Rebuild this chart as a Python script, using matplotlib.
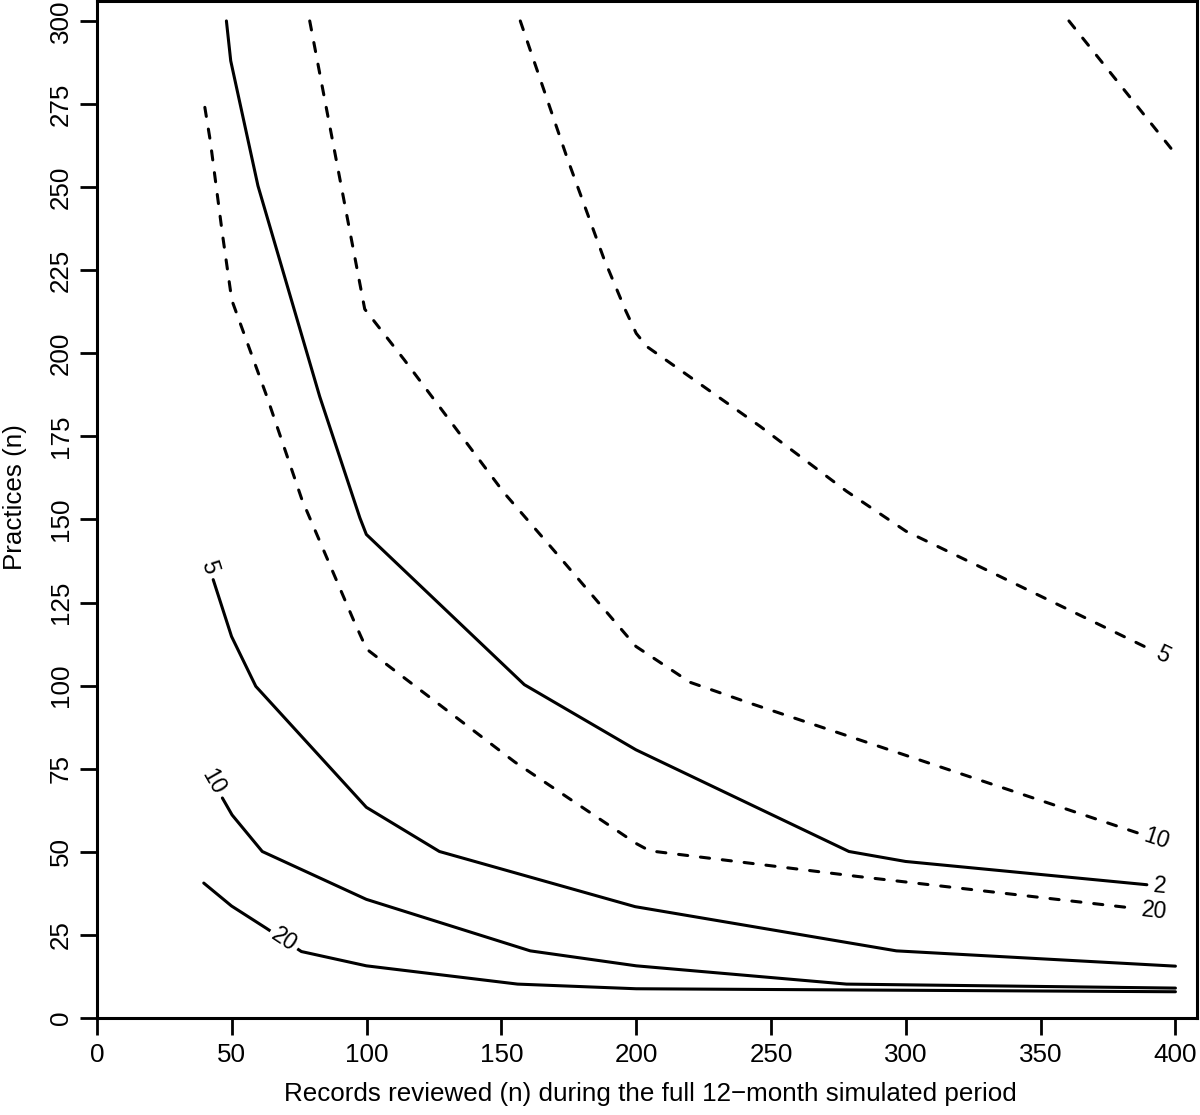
import numpy as np
import matplotlib
matplotlib.use("Agg")
import matplotlib.pyplot as plt

plt.rcParams['font.family'] = ['Liberation Sans', 'DejaVu Sans']

# ---- traced contour lines (x = records reviewed, y = practices) ----
# solid contours
solid2_x = [48.0, 49.6, 59.7, 82.6, 97.5, 99.9, 158.5, 199.9, 278.9, 299.9, 389.4]
solid2_y = [300.0, 288.0, 250.4, 187.0, 150.5, 145.5, 100.3, 80.7, 50.1, 47.1, 40.1]
solid5_x = [43.1, 49.9, 58.9, 99.9, 127.0, 199.6, 296.5, 400.0]
solid5_y = [131.9, 114.8, 99.8, 63.4, 50.1, 33.5, 20.2, 15.6]
solid10_x = [46.5, 50.1, 61.3, 99.9, 160.7, 200.0, 278.0, 400.0]
solid10_y = [66.2, 61.1, 50.1, 35.7, 20.2, 15.7, 10.2, 9.0]
solid20_x = [39.6, 49.9, 62.8, 75.8, 99.9, 156.0, 200.0, 400.0]
solid20_y = [40.6, 33.7, 27.0, 20.0, 15.7, 10.2, 8.8, 7.9]

# dashed contours
dashed5_x = [157.0, 174.5, 188.0, 196.0, 200.0, 204.0, 246.0, 278.0, 300.0, 331.0, 391.0]
dashed5_y = [300.0, 258.5, 228.5, 213.0, 206.0, 202.0, 178.0, 158.5, 146.5, 134.4, 110.8]
dashed10_x = [78.9, 99.3, 114.0, 151.0, 170.2, 199.9, 220.0, 241.9, 386.3]
dashed10_y = [300.0, 213.3, 198.0, 158.0, 140.0, 111.8, 101.0, 94.8, 55.6]
dashed20_x = [40.0, 42.0, 46.5, 50.0, 63.0, 76.0, 95.0, 100.0, 104.0, 155.0, 200.0, 205.0, 242.0, 282.0, 385.0]
dashed20_y = [274.0, 264.0, 236.0, 216.0, 187.0, 156.0, 120.0, 111.0, 108.5, 77.0, 52.5, 50.3, 46.6, 42.6, 33.0]
dashed2_x = [360.5, 400.0]
dashed2_y = [300.0, 260.0]

# contour label texts and where along each line they sit
solid_labels = ["2", "5", "10", "20"]
solid_label_place = ["end", "start", "start", "mid2"]
dashed_labels = ["5", "10", "20", None]
dashed_label_place = ["end", "end", "end", None]

x_ticks = [0, 50, 100, 150, 200, 250, 300, 350, 400]
y_ticks = [0, 25, 50, 75, 100, 125, 150, 175, 200, 225, 250, 275, 300]
x_label = "Records reviewed (n) during the full 12\u2212month simulated period"
y_label = "Practices (n)"

# ---- figure ----
W, H = 1200, 1115
fig = plt.figure(figsize=(W / 100, H / 100), dpi=100)
ax = fig.add_axes([97 / W, (H - 1018) / H, 1100 / W, 1017 / H])
ax.set_xlim(0, 408)
ax.set_ylim(0, 306)

LW = 2.2
solid_curves = [(solid2_x, solid2_y), (solid5_x, solid5_y), (solid10_x, solid10_y), (solid20_x, solid20_y)]
dashed_curves = [(dashed5_x, dashed5_y), (dashed10_x, dashed10_y), (dashed20_x, dashed20_y), (dashed2_x, dashed2_y)]

for cx, cy in solid_curves:
    ax.plot(cx, cy, color='black', lw=LW, solid_capstyle='round', solid_joinstyle='round', zorder=2)
for cx, cy in dashed_curves:
    ax.plot(cx, cy, color='black', lw=LW, ls=(0, (3.0, 4.2)), dash_capstyle='round', zorder=2)

fig.canvas.draw()
T = ax.transData
Tinv = T.inverted()


def put_label(cx, cy, text, place):
    pts = T.transform(np.column_stack([cx, cy]))
    if place == "end":
        a, b = pts[-2], pts[-1]
        d = (b - a) / np.hypot(*(b - a))
        c = b + d * (7 + 6 * len(text))
    elif place == "start":
        a, b = pts[1], pts[0]
        d = (b - a) / np.hypot(*(b - a))
        c = b + d * (7 + 6 * len(text))
        d = -d
    else:
        i = int(place[3:])
        a, b = pts[i], pts[i + 1]
        d = (b - a) / np.hypot(*(b - a))
        c = (a + b) / 2
    ang = np.degrees(np.arctan2(d[1], d[0]))
    if ang > 90:
        ang -= 180
    if ang < -90:
        ang += 180
    dx, dy = Tinv.transform(c)
    kw = {}
    if place.startswith("mid"):
        kw = dict(bbox=dict(facecolor='white', edgecolor='none', pad=2.5))
    ax.text(dx, dy, text, rotation=ang, rotation_mode='anchor', ha='center', va='center',
            fontsize=16.5, color='black', zorder=3, **kw)


for (cx, cy), t, p in zip(solid_curves, solid_labels, solid_label_place):
    if t:
        put_label(cx, cy, t, p)
for (cx, cy), t, p in zip(dashed_curves, dashed_labels, dashed_label_place):
    if t:
        put_label(cx, cy, t, p)

# ---- axes styling (R base graphics look) ----
for s in ax.spines.values():
    s.set_linewidth(2.2)
ax.set_xticks(x_ticks)
ax.set_yticks(y_ticks)
ax.set_xticklabels([str(v) for v in x_ticks])
ax.set_yticklabels([str(v) for v in y_ticks])
ax.tick_params(direction='out', length=12.5, width=2.0, labelsize=18.7, pad=5.5, color='black')
ax.tick_params(axis='y', pad=5.0)
for lab in ax.get_yticklabels():
    lab.set_rotation(90)
    lab.set_va('center')
    lab.set_ha('right')

fig.text(650 / W, 1 - 1094 / H, x_label, ha='center', va='center', fontsize=18.7)
fig.text(15 / W, 1 - 497 / H, y_label, ha='center', va='center', rotation=90, fontsize=18.7)

fig.savefig("out.png", dpi=100, facecolor='white')
